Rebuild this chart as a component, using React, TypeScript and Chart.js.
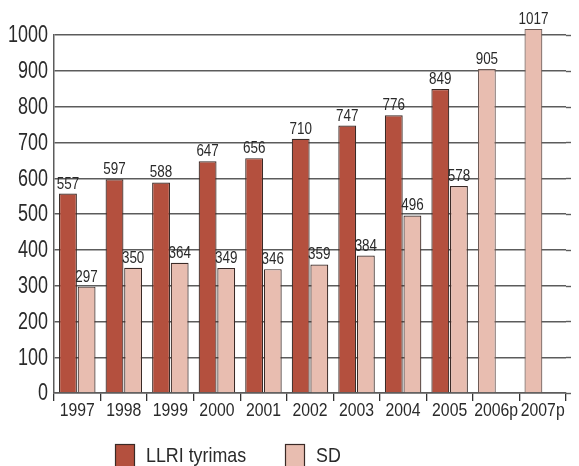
import { useEffect, useRef } from "react";
import { Chart, registerables } from "chart.js";

Chart.register(...registerables);

const years = ["1997", "1998", "1999", "2000", "2001", "2002", "2003", "2004", "2005", "2006p", "2007p"];
const llriValues = [557, 597, 588, 647, 656, 710, 747, 776, 849, null, null];
const sdValues = [297, 350, 364, 349, 346, 359, 384, 496, 578, null, null];
const sdForecast = [null, null, null, null, null, null, null, null, null, 905, 1017];
const yTicks = [0, 100, 200, 300, 400, 500, 600, 700, 800, 900, 1000];

const RED = "#b4503e";
const PINK = "#e8bdb0";
const GRID = "#5c5c5c";
const FONT = "'Liberation Sans', Arial, sans-serif";
const TEXT = "#2a2a2a";

// Draws text squeezed horizontally to imitate a condensed face.
function condensed(
  ctx: CanvasRenderingContext2D,
  text: string,
  x: number,
  y: number,
  size: number,
  sx: number,
  align: CanvasTextAlign,
  baseline: CanvasTextBaseline = "alphabetic"
) {
  ctx.save();
  ctx.translate(x, y);
  ctx.scale(sx, 1);
  ctx.font = `${size}px ${FONT}`;
  ctx.fillStyle = TEXT;
  ctx.textAlign = align;
  ctx.textBaseline = baseline;
  ctx.fillText(text, 0, 0);
  ctx.restore();
}

// Extends the horizontal grid lines past the plot area to the canvas edge.
const gridExtend = {
  id: "gridExtend",
  beforeDatasetsDraw(chart: any) {
    const { ctx, chartArea } = chart;
    const y = chart.scales.y;
    ctx.save();
    ctx.strokeStyle = GRID;
    ctx.lineWidth = 1.4;
    y.ticks.forEach((t: any) => {
      const py = Math.round(y.getPixelForValue(t.value)) + 0.5;
      ctx.beginPath();
      ctx.moveTo(chartArea.right, py);
      ctx.lineTo(chart.width, py);
      ctx.stroke();
    });
    ctx.restore();
  },
};

// Axis labels for both scales.
const axisLabels = {
  id: "axisLabels",
  afterDraw(chart: any) {
    const { ctx, chartArea } = chart;
    const y = chart.scales.y;
    const x = chart.scales.x;
    y.ticks.forEach((t: any) => {
      condensed(ctx, String(t.value), chartArea.left - 6, y.getPixelForValue(t.value) + 1, 23, 0.78, "right", "middle");
    });
    years.forEach((lbl, i) => {
      condensed(ctx, lbl, x.getPixelForValue(i), chartArea.bottom + 23, 19, 0.83, "center");
    });
  },
};

// Value labels above each bar.
const valueLabels = {
  id: "valueLabels",
  afterDatasetsDraw(chart: any) {
    const { ctx } = chart;
    chart.data.datasets.forEach((ds: any, di: number) => {
      const meta = chart.getDatasetMeta(di);
      meta.data.forEach((bar: any, i: number) => {
        const v = ds.data[i];
        if (v === null || v === undefined) return;
        condensed(ctx, String(v), bar.x, bar.y - 5, 16, 0.84, "center");
      });
    });
  },
};

// Legend drawn under the axis, one entry per series.
const seriesLegend = {
  id: "seriesLegend",
  afterDraw(chart: any) {
    const { ctx } = chart;
    const items = [
      { label: "LLRI tyrimas", color: RED, x: 107 },
      { label: "SD", color: PINK, x: 277 },
    ];
    items.forEach((it) => {
      ctx.save();
      ctx.fillStyle = it.color;
      ctx.strokeStyle = "#3a2a26";
      ctx.lineWidth = 1.2;
      ctx.fillRect(it.x, 436, 20, 26);
      ctx.strokeRect(it.x + 0.5, 436.5, 19, 26);
      ctx.restore();
      condensed(ctx, it.label, it.x + 31, 454, 21, 0.85, "left");
    });
  },
};

export default function App() {
  const ref = useRef<HTMLCanvasElement | null>(null);

  useEffect(() => {
    if (!ref.current) return;
    const chart = new Chart(ref.current, {
      type: "bar",
      data: {
        labels: years,
        datasets: [
          {
            label: "LLRI tyrimas",
            data: llriValues,
            backgroundColor: RED,
            borderColor: "#3a2a26",
            borderWidth: 1.2,
            stack: "a",
            clip: false as any,
          },
          {
            label: "SD",
            data: sdValues,
            backgroundColor: PINK,
            borderColor: "#3a2a26",
            borderWidth: 1.2,
            stack: "b",
            clip: false as any,
          },
          {
            label: "SD (prognozė)",
            data: sdForecast,
            backgroundColor: PINK,
            borderColor: "#6e5a55",
            borderWidth: 1.2,
            stack: "a",
            clip: false as any,
          },
        ],
      },
      options: {
        responsive: false,
        animation: false,
        layout: { padding: { top: 27, right: 13, left: 0, bottom: 0 } },
        plugins: {
          legend: { display: false },
          tooltip: { enabled: false },
        },
        datasets: {
          bar: { categoryPercentage: 0.8, barPercentage: 0.96 },
        },
        scales: {
          x: {
            stacked: true,
            offset: true,
            grid: {
              offset: true,
              drawOnChartArea: false,
              drawTicks: true,
              tickLength: 8,
              lineWidth: 1.3,
              color: (c: any) => (c.index === years.length ? "rgba(0,0,0,0)" : "#333"),
            },
            border: { display: true, color: GRID, width: 1.4 },
            ticks: { display: false, autoSkip: false },
            afterFit: (s: any) => {
              s.height = 73;
            },
          },
          y: {
            stacked: true,
            min: 0,
            max: 1000,
            afterBuildTicks: (s: any) => {
              s.ticks = yTicks.map((v) => ({ value: v }));
            },
            grid: { drawTicks: false, color: GRID, lineWidth: 1.4 },
            border: { display: true, color: GRID, width: 1.5 },
            ticks: { display: false },
            afterFit: (s: any) => {
              s.width = 46;
            },
          },
        },
      },
      plugins: [gridExtend, valueLabels, axisLabels, seriesLegend],
    });
    return () => chart.destroy();
  }, []);

  return (
    <div style={{ width: 571, height: 458 }}>
      <canvas ref={ref} width={571} height={458} style={{ display: "block" }} />
    </div>
  );
}
